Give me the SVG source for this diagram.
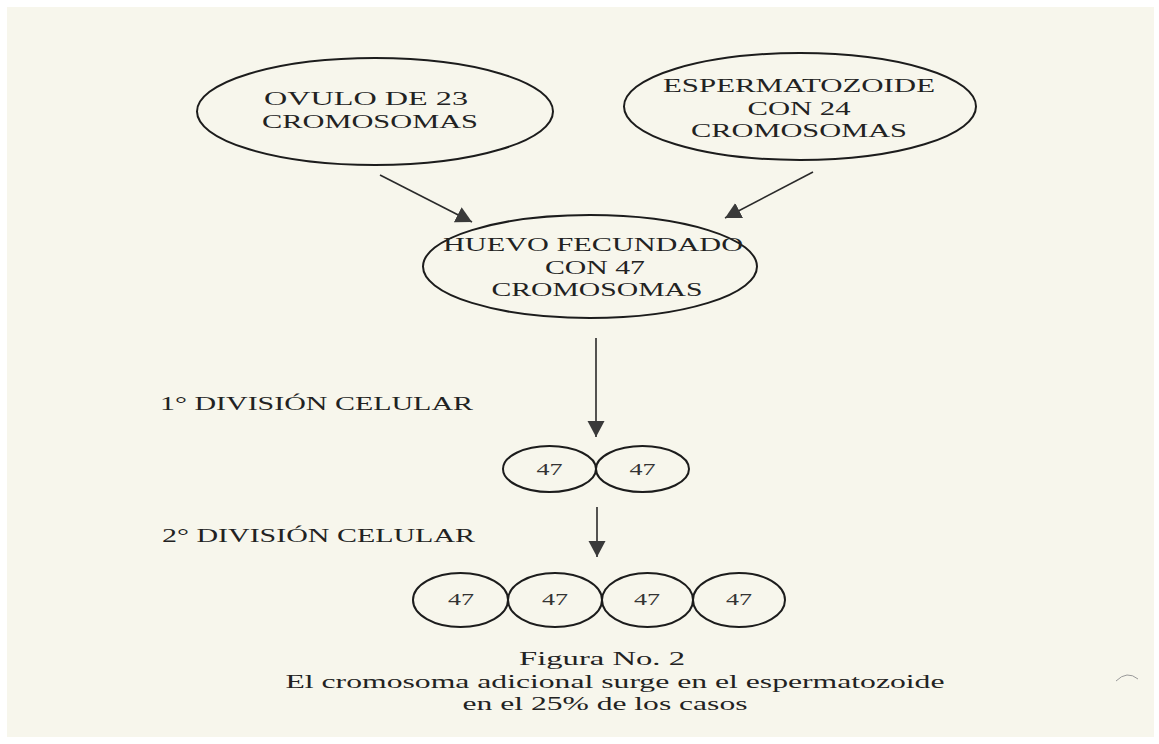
<svg xmlns="http://www.w3.org/2000/svg" width="1159" height="744" viewBox="0 0 1159 744">
<style>
.t{font-family:"Liberation Serif","Times New Roman",serif;font-size:18.5px;fill:#222;}
.c{text-anchor:middle;}
.n{font-family:"Liberation Serif","Times New Roman",serif;font-size:17px;fill:#333;text-anchor:middle;}
.e{fill:none;stroke:#1c1c1c;stroke-width:2;}
.a{fill:none;stroke:#2a2a2a;stroke-width:1.6;}
</style>
<defs>
<marker id="ah" markerUnits="userSpaceOnUse" markerWidth="17" markerHeight="18" refX="16" refY="8.5" orient="auto">
<path d="M0,0 L16,8.5 L0,17 z" fill="#3a3a3a"/>
</marker>
</defs>
<rect x="0" y="0" width="1159" height="744" fill="#ffffff"/>
<rect x="7" y="7" width="1147" height="730" fill="#f7f6ec"/>
<path d="M1116,681 Q1127,670 1138,679" fill="none" stroke="#9a9a9a" stroke-width="1"/>

<g id="ovulo">
<ellipse class="e" cx="375" cy="111.5" rx="178" ry="53.5"/>
<text class="t c" x="366" y="105" textLength="204" lengthAdjust="spacingAndGlyphs">OVULO DE 23</text>
<text class="t c" x="370" y="127.5" textLength="216" lengthAdjust="spacingAndGlyphs">CROMOSOMAS</text>
</g>

<g id="espermatozoide">
<ellipse class="e" cx="800" cy="106.5" rx="176" ry="53.5"/>
<text class="t c" x="799" y="92" textLength="272" lengthAdjust="spacingAndGlyphs">ESPERMATOZOIDE</text>
<text class="t c" x="799" y="114.5" textLength="103" lengthAdjust="spacingAndGlyphs">CON 24</text>
<text class="t c" x="799" y="137" textLength="216" lengthAdjust="spacingAndGlyphs">CROMOSOMAS</text>
</g>

<g id="huevo">
<ellipse class="e" cx="590" cy="266.5" rx="167" ry="51.5"/>
<text class="t c" x="593" y="251" textLength="300" lengthAdjust="spacingAndGlyphs">HUEVO FECUNDADO</text>
<text class="t c" x="595" y="273.5" textLength="100" lengthAdjust="spacingAndGlyphs">CON 47</text>
<text class="t c" x="597" y="296" textLength="211" lengthAdjust="spacingAndGlyphs">CROMOSOMAS</text>
</g>

<g id="label1">
<text class="t" x="160" y="410" textLength="313" lengthAdjust="spacingAndGlyphs">1° DIVISIÓN CELULAR</text>
</g>

<g id="division1">
<ellipse class="e" cx="549.5" cy="469" rx="46.5" ry="23"/>
<ellipse class="e" cx="642.5" cy="469" rx="46.5" ry="23"/>
<text class="n" x="549.5" y="475" textLength="26" lengthAdjust="spacingAndGlyphs">47</text>
<text class="n" x="642.5" y="475" textLength="26" lengthAdjust="spacingAndGlyphs">47</text>
</g>

<g id="label2">
<text class="t" x="162" y="542" textLength="313" lengthAdjust="spacingAndGlyphs">2° DIVISIÓN CELULAR</text>
</g>

<g id="division2">
<ellipse class="e" cx="460.5" cy="600" rx="47.5" ry="27"/>
<ellipse class="e" cx="555" cy="600" rx="47" ry="27"/>
<ellipse class="e" cx="647.5" cy="600" rx="45.5" ry="27"/>
<ellipse class="e" cx="739" cy="600" rx="46" ry="27"/>
<text class="n" x="461" y="605" textLength="26" lengthAdjust="spacingAndGlyphs">47</text>
<text class="n" x="555" y="605" textLength="26" lengthAdjust="spacingAndGlyphs">47</text>
<text class="n" x="647" y="605" textLength="26" lengthAdjust="spacingAndGlyphs">47</text>
<text class="n" x="739" y="605" textLength="26" lengthAdjust="spacingAndGlyphs">47</text>
</g>

<g id="connectors">
<line class="a" x1="380" y1="175" x2="472" y2="222" marker-end="url(#ah)"/>
<line class="a" x1="813" y1="172" x2="725" y2="218" marker-end="url(#ah)"/>
<line class="a" x1="596" y1="338" x2="596" y2="437" marker-end="url(#ah)"/>
<line class="a" x1="597" y1="507" x2="597" y2="557" marker-end="url(#ah)"/>
</g>

<g id="caption">
<text class="t c" x="602" y="665" textLength="166" lengthAdjust="spacingAndGlyphs">Figura No. 2</text>
<text class="t c" x="615" y="687.5" textLength="659" lengthAdjust="spacingAndGlyphs">El cromosoma adicional surge en el espermatozoide</text>
<text class="t c" x="605" y="710" textLength="285" lengthAdjust="spacingAndGlyphs">en el 25% de los casos</text>
</g>
</svg>
